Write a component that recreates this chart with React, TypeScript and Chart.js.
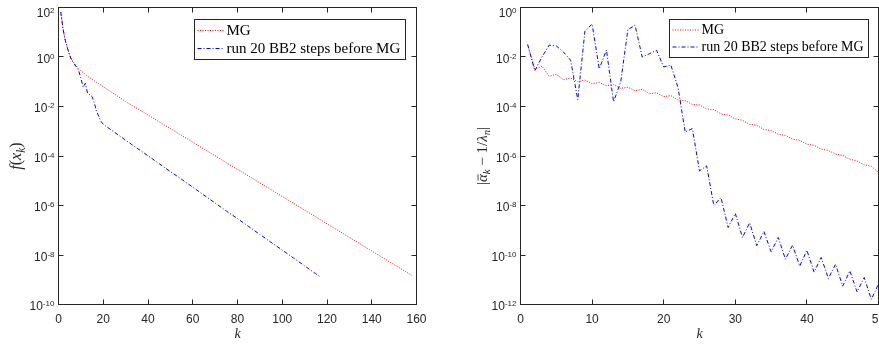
import React, { useEffect, useRef } from "react";
import { Chart, registerables } from "chart.js";
Chart.register(...registerables);

// ---------------- data (stored as log10) ----------------
const seriesLabels = ["MG", "run 20 BB2 steps before MG"];

// Left panel: f(x_k)
const leftKMG = [1, 2, 3, 4, 5, 6, 7, 8, 9, 10, 11, 12, 13, 14, 15, 16, 17, 18, 19, 20,
  25, 30, 35, 40, 45, 50, 55, 60, 65, 70, 75, 80, 85, 90, 95, 100, 105, 110, 115, 120,
  125, 130, 135, 140, 145, 150, 155, 158];
const leftLogMG = [1.82, 1.15, 0.68, 0.36, 0.08, -0.12, -0.25, -0.36, -0.46, -0.55,
  -0.63, -0.70, -0.77, -0.84, -0.90, -0.96, -1.02, -1.08, -1.14, -1.20,
  -1.50, -1.80, -2.07, -2.34, -2.62, -2.89, -3.17, -3.44, -3.72, -3.99,
  -4.27, -4.54, -4.81, -5.09, -5.36, -5.64, -5.91, -6.19, -6.46, -6.74,
  -7.01, -7.29, -7.56, -7.84, -8.11, -8.39, -8.66, -8.83];
const leftKBB = [1, 2, 3, 4, 5, 6, 7, 8, 9, 10, 11, 12, 13, 14, 15, 16, 17, 18, 19, 20,
  25, 30, 35, 40, 45, 50, 55, 60, 65, 70, 75, 80, 85, 90, 95, 100, 105, 110, 115, 117];
const leftLogBB = [1.82, 1.15, 0.68, 0.36, 0.06, -0.15, -0.28, -0.40, -0.55, -0.85,
  -1.22, -1.06, -1.47, -1.53, -1.60, -1.85, -2.20, -2.40, -2.60, -2.72,
  -3.04, -3.36, -3.68, -3.99, -4.31, -4.63, -4.94, -5.26, -5.58, -5.90,
  -6.22, -6.53, -6.85, -7.17, -7.49, -7.80, -8.12, -8.44, -8.76, -8.88];
const leftXTicks = [0, 20, 40, 60, 80, 100, 120, 140, 160];
const leftYTicks = [1e-10, 1e-8, 1e-6, 1e-4, 1e-2, 1, 1e2];

// Right panel: |alpha_k - 1/lambda_n|
const rightK = [1, 2, 3, 4, 5, 6, 7, 8, 9, 10, 11, 12, 13, 14, 15, 16, 17, 18, 19, 20,
  21, 22, 23, 24, 25, 26, 27, 28, 29, 30, 31, 32, 33, 34, 35, 36, 37, 38, 39, 40,
  41, 42, 43, 44, 45, 46, 47, 48, 49, 50];
const rightLogMG = [-1.50, -2.50, -2.37, -2.78, -2.70, -2.92, -2.85, -3.00, -2.93, -3.08,
  -3.03, -3.16, -3.12, -3.27, -3.22, -3.36, -3.30, -3.48, -3.45, -3.60,
  -3.56, -3.74, -3.76, -3.92, -3.94, -4.10, -4.13, -4.30, -4.34, -4.50,
  -4.56, -4.72, -4.76, -4.93, -4.97, -5.12, -5.17, -5.32, -5.37, -5.52,
  -5.57, -5.72, -5.78, -5.92, -5.98, -6.13, -6.20, -6.35, -6.42, -6.66];
const rightLogBB = [-1.50, -2.55, -2.00, -1.52, -1.55, -1.80, -2.13, -3.72, -0.95, -0.67,
  -2.48, -1.72, -3.81, -3.00, -0.89, -0.72, -2.00, -1.87, -1.73, -2.40,
  -2.33, -3.23, -5.03, -4.89, -6.60, -6.40, -8.00, -7.68, -8.89, -8.32,
  -9.29, -8.70, -9.62, -9.05, -9.87, -9.29, -10.17, -9.60, -10.45, -9.81,
  -10.69, -10.10, -10.95, -10.37, -11.26, -10.64, -11.49, -10.91, -11.79, -11.17];
const rightXTicks = [0, 10, 20, 30, 40, 50];
const rightYTicks = [1e-12, 1e-10, 1e-8, 1e-6, 1e-4, 1e-2, 1];

// ---------------- styling ----------------
const AXIS = "#262626";
const SANS = "'Liberation Sans', Arial, sans-serif";
const SERIF = "'Liberation Serif', 'Times New Roman', serif";
const RED_DASH = [1, 1.5];
const BLUE_DASH = [4, 2, 1, 2];

type Piece = { t: string; it?: boolean; sub?: boolean; bar?: boolean };

function drawPieces(ctx: CanvasRenderingContext2D, pieces: Piece[], size: number) {
  const font = (p: Piece) => `${p.it ? "italic " : ""}${p.sub ? size * 0.72 : size}px ${SERIF}`;
  const widths = pieces.map((p) => { ctx.font = font(p); return ctx.measureText(p.t).width; });
  const total = widths.reduce((a, b) => a + b, 0);
  let x = -total / 2;
  ctx.textAlign = "left";
  ctx.textBaseline = "alphabetic";
  pieces.forEach((p, i) => {
    ctx.font = font(p);
    const y = size * 0.33 + (p.sub ? size * 0.22 : 0);
    ctx.fillText(p.t, x, y);
    if (p.bar) ctx.fillRect(x + 1.5, y - size * 0.62, widths[i] - 1.5, 0.8);
    x += widths[i];
  });
}

const matlabPlugin = {
  id: "matlab",
  afterDraw(chart: any, _a: any, opts: any) {
    const ctx: CanvasRenderingContext2D = chart.ctx;
    const { left, right, top, bottom } = chart.chartArea;
    const xs = chart.scales.x;
    const ys = chart.scales.y;
    ctx.save();
    ctx.strokeStyle = AXIS;
    ctx.lineWidth = 1;
    ctx.setLineDash([]);
    ctx.strokeRect(left, top, right - left, bottom - top);
    const seg = (a: number, b: number, c: number, d: number) => {
      ctx.beginPath(); ctx.moveTo(a, b); ctx.lineTo(c, d); ctx.stroke();
    };
    xs.ticks.forEach((t: any) => {
      const px = Math.round(xs.getPixelForValue(t.value) - 0.5) + 0.5;
      seg(px, bottom, px, bottom - 5);
      seg(px, top, px, top + 5);
    });
    ys.ticks.forEach((t: any) => {
      const py = Math.round(ys.getPixelForValue(t.value) - 0.5) + 0.5;
      seg(left, py, left + 5, py);
      seg(right, py, right - 5, py);
    });
    // y tick labels: 10^n
    ctx.fillStyle = AXIS;
    ctx.textAlign = "right";
    ctx.textBaseline = "alphabetic";
    ys.ticks.forEach((t: any) => {
      const py = ys.getPixelForValue(t.value);
      const exp = String(Math.round(Math.log10(t.value)));
      const cy = Math.max(py + 1.5, top + 5.5);
      const xr = left - 4;
      ctx.font = `8px ${SANS}`;
      const we = ctx.measureText(exp).width;
      ctx.fillText(exp, xr, cy);
      ctx.font = `12px ${SANS}`;
      ctx.fillText("10", xr - we, cy + 4.3);
    });
    // axis titles
    ctx.fillStyle = "#262626";
    ctx.save();
    ctx.translate((left + right) / 2, 333);
    drawPieces(ctx, [{ t: "k", it: true }], 14);
    ctx.restore();
    ctx.save();
    ctx.translate(opts.yTitleX, (top + bottom) / 2);
    ctx.rotate(-Math.PI / 2);
    drawPieces(ctx, opts.yTitle, opts.yTitleSize);
    ctx.restore();
    // legend
    const lg = opts.legend;
    ctx.font = `${lg.fontSize}px ${SERIF}`;
    const tw = Math.max(...chart.data.datasets.map((d: any) => ctx.measureText(d.label).width));
    const bw = Math.round(32 + tw + 5);
    const bx = Math.round(right - lg.right - bw) + 0.5;
    const by = Math.round(top + lg.top) + 0.5;
    ctx.fillStyle = "#ffffff";
    ctx.fillRect(bx, by, bw, lg.height);
    ctx.strokeStyle = AXIS;
    ctx.strokeRect(bx, by, bw, lg.height);
    chart.data.datasets.forEach((d: any, i: number) => {
      const ry = by + lg.row0 + i * lg.rowGap;
      ctx.strokeStyle = d.borderColor;
      ctx.lineWidth = d.borderWidth;
      ctx.setLineDash(d.borderDash);
      seg(bx + 3, ry, bx + 29, ry);
      ctx.setLineDash([]);
      ctx.fillStyle = "#000";
      ctx.font = `${lg.fontSize}px ${SERIF}`;
      ctx.textAlign = "left";
      ctx.textBaseline = "middle";
      ctx.fillText(d.label, bx + 32, ry + 0.5);
    });
    ctx.restore();
  },
};

function pts(ks: number[], logs: number[]) {
  return ks.map((k, i) => ({ x: k, y: Math.pow(10, logs[i]) }));
}

function makeConfig(p: any): any {
  return {
    type: "line",
    data: {
      datasets: [
        { label: seriesLabels[0], data: p.mg, borderColor: "#ff0000", borderWidth: 1, borderDash: RED_DASH, pointRadius: 0, tension: 0, order: 2 },
        { label: seriesLabels[1], data: p.bb, borderColor: "#0000ff", borderWidth: 1, borderDash: BLUE_DASH, pointRadius: 0, tension: 0, order: 1 },
      ],
    },
    options: {
      responsive: false,
      animation: false,
      devicePixelRatio: 1,
      layout: { padding: { left: 0, right: p.padRight, top: 7.5, bottom: 0 } },
      plugins: {
        legend: { display: false },
        tooltip: { enabled: false },
        matlab: { yTitle: p.yTitle, yTitleX: p.yTitleX, yTitleSize: p.yTitleSize, legend: p.legend },
      },
      scales: {
        x: {
          type: "linear",
          min: p.xMin,
          max: p.xMax,
          afterBuildTicks: (s: any) => { s.ticks = p.xTicks.map((v: number) => ({ value: v })); },
          afterFit: (s: any) => { s.height = 40.5; },
          grid: { display: false, drawTicks: false },
          border: { display: false },
          ticks: { color: AXIS, font: { family: SANS, size: 12 }, padding: 8, maxRotation: 0, autoSkip: false },
        },
        y: {
          type: "logarithmic",
          min: p.yMin,
          max: p.yMax,
          afterBuildTicks: (s: any) => { s.ticks = p.yTicks.map((v: number) => ({ value: v })); },
          afterFit: (s: any) => { s.width = p.yWidth; },
          grid: { display: false, drawTicks: false },
          border: { display: false },
          ticks: { display: false },
        },
      },
    },
    plugins: [matlabPlugin],
  };
}

export default function App() {
  const leftRef = useRef<HTMLCanvasElement>(null);
  const rightRef = useRef<HTMLCanvasElement>(null);
  useEffect(() => {
    const left = new Chart(leftRef.current as HTMLCanvasElement, makeConfig({
      mg: pts(leftKMG, leftLogMG),
      bb: pts(leftKBB, leftLogBB),
      xMin: 0, xMax: 160, xTicks: leftXTicks,
      yMin: 1e-10, yMax: 1e2, yTicks: leftYTicks,
      yWidth: 58.5, padRight: 23.5,
      yTitleX: 16, yTitleSize: 16,
      yTitle: [{ t: "f", it: true }, { t: "(" }, { t: "x", it: true }, { t: "k", it: true, sub: true }, { t: ")" }],
      legend: { fontSize: 15, right: 11.5, top: 11.5, height: 40, row0: 11, rowGap: 18 },
    }));
    const right = new Chart(rightRef.current as HTMLCanvasElement, makeConfig({
      mg: pts(rightK, rightLogMG),
      bb: pts(rightK, rightLogBB),
      xMin: 0, xMax: 50, xTicks: rightXTicks,
      yMin: 1e-12, yMax: 1, yTicks: rightYTicks,
      yWidth: 80.5, padRight: 21.5,
      yTitleX: 42, yTitleSize: 15,
      yTitle: [{ t: "|" }, { t: "α", it: true, bar: true }, { t: "k", it: true, sub: true }, { t: " − 1/" }, { t: "λ", it: true }, { t: "n", it: true, sub: true }, { t: "|" }],
      legend: { fontSize: 14, right: 11, top: 11.5, height: 38, row0: 10.5, rowGap: 17 },
    }));
    return () => { left.destroy(); right.destroy(); };
  }, []);
  return (
    <div style={{ position: "fixed", left: 0, top: 0, width: 879, height: 345, overflow: "hidden", background: "#fff" }}>
      <canvas ref={leftRef} width={440} height={345} style={{ position: "absolute", left: 0, top: 0, width: 440, height: 345 }} />
      <canvas ref={rightRef} width={460} height={345} style={{ position: "absolute", left: 440, top: 0, width: 460, height: 345 }} />
    </div>
  );
}
